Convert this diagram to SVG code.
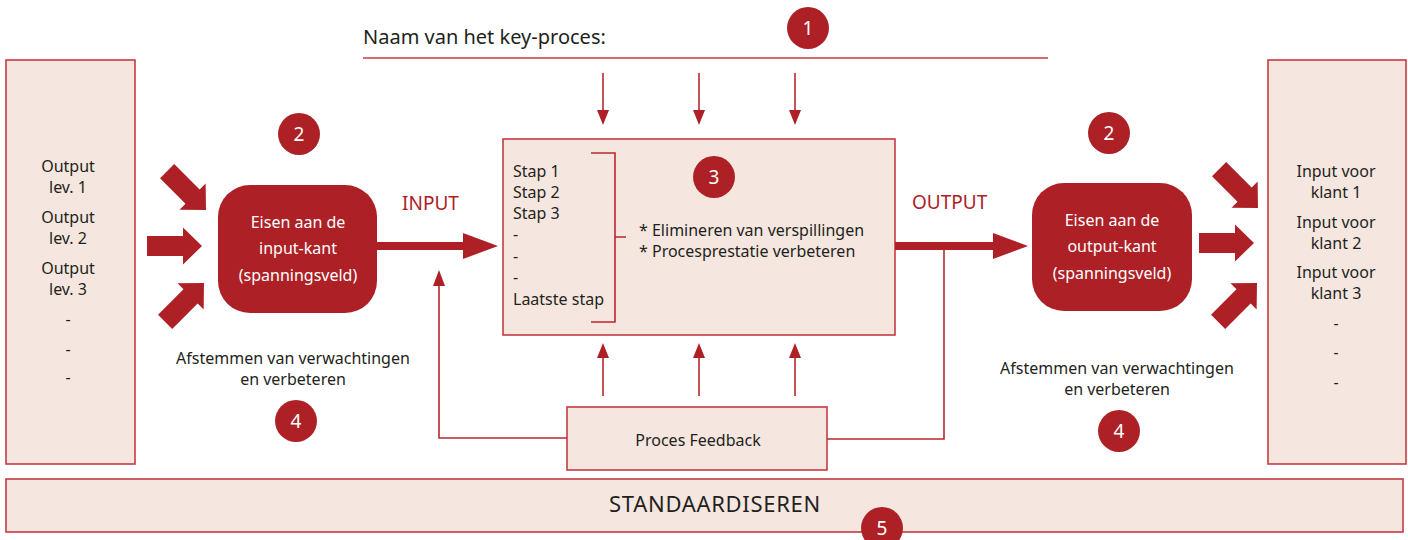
<svg xmlns="http://www.w3.org/2000/svg" width="1408" height="540" viewBox="0 0 1408 540">
<defs>
<style>
.box{fill:#F5E7DF;stroke:#C43C43;stroke-width:1.6}
.dark{fill:#AD2126}
.ln{fill:none;stroke:#B8282F;stroke-width:1.6}
.thick{fill:none;stroke:#AD2126;stroke-width:8}
.hd{fill:#AD2126}
.t{font-family:"Noto Sans","Liberation Sans",sans-serif;font-size:16px;fill:#231F20}
.m{text-anchor:middle}
.w{fill:#FFFFFF}
.red{font-family:"Noto Sans","Liberation Sans",sans-serif;font-size:19px;fill:#AD2126}
.num{font-family:"Noto Sans","Liberation Sans",sans-serif;font-size:19px;fill:#FFFFFF;text-anchor:middle}
</style>
<path id="fat" d="M-55,-10 H-19 V-18.5 L0,0 L-19,18.5 V10 H-55 Z"/>
</defs>

<g id="title">
<text class="t" x="363" y="44" style="font-size:20px">Naam van het key-proces:</text>
<line x1="363" y1="58" x2="1048" y2="58" stroke="#C43C43" stroke-width="1.6"/>
</g>

<g id="suppliers">
<rect class="box" x="6" y="60" width="129" height="404"/>
<text class="t m" x="68" y="172">Output</text>
<text class="t m" x="68" y="193">lev. 1</text>
<text class="t m" x="68" y="223">Output</text>
<text class="t m" x="68" y="244">lev. 2</text>
<text class="t m" x="68" y="274">Output</text>
<text class="t m" x="68" y="295">lev. 3</text>
<text class="t m" x="68" y="325">-</text>
<text class="t m" x="68" y="355">-</text>
<text class="t m" x="68" y="383">-</text>
</g>

<g id="customers">
<rect class="box" x="1268" y="60" width="138" height="404"/>
<text class="t m" x="1336" y="177">Input voor</text>
<text class="t m" x="1336" y="198">klant 1</text>
<text class="t m" x="1336" y="228">Input voor</text>
<text class="t m" x="1336" y="249">klant 2</text>
<text class="t m" x="1336" y="278">Input voor</text>
<text class="t m" x="1336" y="299">klant 3</text>
<text class="t m" x="1336" y="329">-</text>
<text class="t m" x="1336" y="358">-</text>
<text class="t m" x="1336" y="388">-</text>
</g>

<g id="input-req">
<rect class="dark" x="218" y="185" width="159" height="128" rx="32"/>
<text class="t m w" x="298" y="228">Eisen aan de</text>
<text class="t m w" x="298" y="254">input-kant</text>
<text class="t m w" x="298" y="281">(spanningsveld)</text>
</g>

<g id="output-req">
<rect class="dark" x="1032" y="183" width="160" height="128" rx="32"/>
<text class="t m w" x="1112" y="226">Eisen aan de</text>
<text class="t m w" x="1112" y="252">output-kant</text>
<text class="t m w" x="1112" y="279">(spanningsveld)</text>
</g>

<g id="process">
<rect class="box" x="503" y="139" width="392" height="196"/>
<path class="ln" d="M591,153 H615 V322 H591 M615,237 H626" stroke="#C43C43"/>
<text class="t" x="513" y="177">Stap 1</text>
<text class="t" x="513" y="198">Stap 2</text>
<text class="t" x="513" y="219">Stap 3</text>
<text class="t" x="513" y="240">-</text>
<text class="t" x="513" y="262">-</text>
<text class="t" x="513" y="283">-</text>
<text class="t" x="513" y="305">Laatste stap</text>
<text class="t" x="639" y="236">* Elimineren van verspillingen</text>
<text class="t" x="639" y="257">* Procesprestatie verbeteren</text>
</g>

<g id="feedback">
<rect class="box" x="567" y="407" width="260" height="63"/>
<text class="t m" x="698" y="446">Proces Feedback</text>
</g>

<g id="standardize">
<rect class="box" x="6" y="479" width="1397" height="53"/>
<text class="t m" x="715" y="512" style="font-size:22px;letter-spacing:0.7px">STANDAARDISEREN</text>
</g>

<g id="labels">
<text class="red" x="402" y="210">INPUT</text>
<text class="red" x="912" y="209">OUTPUT</text>
<text class="t m" x="293" y="364">Afstemmen van verwachtingen</text>
<text class="t m" x="293" y="385">en verbeteren</text>
<text class="t m" x="1117" y="374">Afstemmen van verwachtingen</text>
<text class="t m" x="1117" y="395">en verbeteren</text>
</g>

<g id="connectors">
<g class="hd">
<use href="#fat" transform="translate(206,210) rotate(45)"/>
<use href="#fat" transform="translate(202,246)"/>
<use href="#fat" transform="translate(204,283) rotate(-45)"/>
<use href="#fat" transform="translate(1258,208) rotate(45)"/>
<use href="#fat" transform="translate(1254,243)"/>
<use href="#fat" transform="translate(1257,283) rotate(-45)"/>
</g>
<line class="thick" x1="377" y1="246" x2="464" y2="246"/>
<polygon class="hd" points="463,233 498,246 463,259"/>
<line class="thick" x1="895" y1="246" x2="994" y2="246"/>
<polygon class="hd" points="993,233 1028,246 993,259"/>
<g class="ln">
<line x1="603" y1="73" x2="603" y2="112"/>
<line x1="699" y1="73" x2="699" y2="112"/>
<line x1="795" y1="73" x2="795" y2="112"/>
<line x1="603" y1="356" x2="603" y2="396"/>
<line x1="699" y1="356" x2="699" y2="396"/>
<line x1="795" y1="356" x2="795" y2="396"/>
<polyline points="567,438 439,438 439,284"/>
<polyline points="944,249 944,439 827,439"/>
</g>
<g class="hd">
<polygon points="597,110 609,110 603,125"/>
<polygon points="693,110 705,110 699,125"/>
<polygon points="789,110 801,110 795,125"/>
<polygon points="597,358 609,358 603,343"/>
<polygon points="693,358 705,358 699,343"/>
<polygon points="789,358 801,358 795,343"/>
<polygon points="433,286 445,286 439,270"/>
</g>
</g>

<g id="markers">
<circle class="dark" cx="808" cy="28" r="21"/><text class="num" x="808" y="35">1</text>
<circle class="dark" cx="299" cy="134" r="21"/><text class="num" x="299" y="141">2</text>
<circle class="dark" cx="1109" cy="133" r="21"/><text class="num" x="1109" y="140">2</text>
<circle class="dark" cx="714" cy="177" r="21"/><text class="num" x="714" y="184">3</text>
<circle class="dark" cx="296" cy="421" r="21"/><text class="num" x="296" y="428">4</text>
<circle class="dark" cx="1119" cy="431" r="21"/><text class="num" x="1119" y="438">4</text>
<circle class="dark" cx="882" cy="528" r="21"/><text class="num" x="882" y="535">5</text>
</g>
</svg>
